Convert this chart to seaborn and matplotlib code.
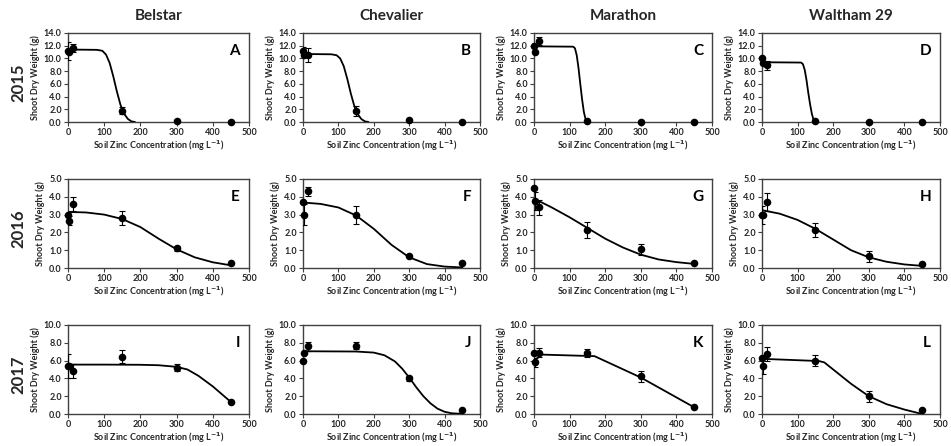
import numpy as np
import pandas as pd
import matplotlib
matplotlib.use("Agg")
import matplotlib.pyplot as plt
import seaborn as sns

# ---------------- data ----------------
cultivars = ["Belstar", "Chevalier", "Marathon", "Waltham 29"]
years = ["2015", "2016", "2017"]
panel_letters = ["A", "B", "C", "D", "E", "F", "G", "H", "I", "J", "K", "L"]
ymax = [14.0, 5.0, 10.0]
ystep = [2.0, 1.0, 2.0]
x_ticks = [0, 100, 200, 300, 400, 500]

zinc = [0, 2, 15, 150, 300, 450]

# observed means and error bars (per panel)
obs_A = [11.2, 11.0, 11.6, 1.8, 0.2, 0.0]
err_A = [1.4, 0.0, 0.6, 0.6, 0.0, 0.0]
obs_B = [11.2, 10.5, 10.5, 1.7, 0.3, 0.0]
err_B = [0.6, 0.0, 1.1, 0.8, 0.0, 0.0]
obs_C = [12.0, 11.0, 12.7, 0.2, 0.0, 0.0]
err_C = [0.0, 0.0, 0.6, 0.0, 0.0, 0.0]
obs_D = [10.0, 9.3, 8.9, 0.1, 0.0, 0.0]
err_D = [0.0, 0.0, 0.7, 0.0, 0.0, 0.0]
obs_E = [3.0, 2.65, 3.6, 2.8, 1.1, 0.3]
err_E = [0.0, 0.25, 0.4, 0.4, 0.15, 0.0]
obs_F = [3.7, 3.0, 4.3, 3.0, 0.65, 0.3]
err_F = [0.0, 0.6, 0.25, 0.5, 0.0, 0.0]
obs_G = [4.5, 3.75, 3.4, 2.15, 1.05, 0.28]
err_G = [0.0, 0.5, 0.4, 0.45, 0.3, 0.0]
obs_H = [3.0, 3.0, 3.7, 2.15, 0.65, 0.2]
err_H = [0.5, 0.0, 0.5, 0.4, 0.3, 0.0]
obs_I = [5.4, 5.4, 4.85, 6.45, 5.2, 1.35]
err_I = [1.3, 0.0, 0.8, 0.7, 0.4, 0.0]
obs_J = [6.0, 6.9, 7.6, 7.65, 4.0, 0.4]
err_J = [0.0, 0.0, 0.5, 0.4, 0.3, 0.0]
obs_K = [6.9, 5.8, 6.9, 6.85, 4.25, 0.75]
err_K = [0.0, 0.5, 0.5, 0.4, 0.6, 0.0]
obs_L = [6.3, 5.4, 6.7, 6.0, 2.0, 0.5]
err_L = [0.0, 0.9, 0.8, 0.6, 0.6, 0.0]

# fitted curves
fit_x_A = [0, 80, 95, 105, 115, 125, 135, 145, 155, 165, 175, 185]
fit_y_A = [11.4, 11.35, 11.2, 10.6, 9.3, 7.2, 4.8, 2.7, 1.3, 0.5, 0.1, 0.0]
fit_x_B = [0, 80, 95, 105, 115, 125, 135, 145, 155, 165, 175, 185]
fit_y_B = [10.7, 10.65, 10.5, 10.0, 8.8, 6.8, 4.5, 2.5, 1.2, 0.45, 0.1, 0.0]
fit_x_C = [0, 110, 115, 120, 125, 130, 135, 140, 145, 150]
fit_y_C = [11.9, 11.85, 11.6, 10.5, 8.5, 6.0, 3.6, 1.6, 0.4, 0.0]
fit_x_D = [0, 110, 115, 120, 125, 130, 135, 140, 145, 150]
fit_y_D = [9.4, 9.35, 9.1, 8.2, 6.6, 4.6, 2.8, 1.3, 0.3, 0.0]
fit_x_E = [0, 50, 100, 150, 200, 250, 300, 350, 400, 450]
fit_y_E = [3.15, 3.12, 3.0, 2.75, 2.3, 1.65, 1.05, 0.6, 0.32, 0.15]
fit_x_F = [0, 50, 100, 150, 200, 250, 300, 350, 400, 450]
fit_y_F = [3.68, 3.6, 3.4, 2.95, 2.2, 1.3, 0.6, 0.22, 0.08, 0.03]
fit_x_G = [0, 50, 100, 150, 200, 250, 300, 350, 400, 450]
fit_y_G = [3.9, 3.4, 2.85, 2.25, 1.65, 1.15, 0.75, 0.48, 0.33, 0.23]
fit_x_H = [0, 50, 100, 150, 200, 250, 300, 350, 400, 450]
fit_y_H = [3.25, 3.05, 2.7, 2.2, 1.6, 1.0, 0.6, 0.35, 0.2, 0.12]
fit_x_I = [0, 100, 200, 250, 300, 330, 360, 400, 450]
fit_y_I = [5.55, 5.55, 5.53, 5.48, 5.3, 5.0, 4.3, 3.1, 1.35]
fit_x_J = [0, 150, 200, 230, 260, 280, 300, 320, 340, 360, 380, 400, 420, 450]
fit_y_J = [7.05, 7.02, 6.9, 6.6, 5.9, 5.1, 4.1, 3.0, 2.0, 1.2, 0.6, 0.25, 0.08, 0.02]
fit_x_K = [0, 170, 300, 450]
fit_y_K = [6.7, 6.5, 4.1, 0.75]
fit_x_L = [0, 160, 175, 200, 250, 300, 350, 400, 450]
fit_y_L = [6.2, 5.95, 5.8, 5.0, 3.4, 2.0, 1.1, 0.5, 0.0]

obs_all = [obs_A, obs_B, obs_C, obs_D, obs_E, obs_F, obs_G, obs_H, obs_I, obs_J, obs_K, obs_L]
err_all = [err_A, err_B, err_C, err_D, err_E, err_F, err_G, err_H, err_I, err_J, err_K, err_L]
fitx_all = [fit_x_A, fit_x_B, fit_x_C, fit_x_D, fit_x_E, fit_x_F, fit_x_G, fit_x_H, fit_x_I, fit_x_J, fit_x_K, fit_x_L]
fity_all = [fit_y_A, fit_y_B, fit_y_C, fit_y_D, fit_y_E, fit_y_F, fit_y_G, fit_y_H, fit_y_I, fit_y_J, fit_y_K, fit_y_L]

# ---------------- style ----------------
sns.set_theme(style="ticks")
plt.rcParams["font.family"] = ["Lato", "DejaVu Sans"]
plt.rcParams["font.weight"] = "bold"

W, H = 951, 446
fig = plt.figure(figsize=(W / 100, H / 100), dpi=100)

col_left = [68, 303, 534, 762]
col_width = [181, 177, 178, 178]
row_top = [33, 179, 325]
ax_h = 89

edge = "#404040"
for r in range(3):
    for c in range(4):
        i = r * 4 + c
        left = col_left[c] / W
        bottom = 1 - (row_top[r] + ax_h) / H
        ax = fig.add_axes([left, bottom, col_width[c] / W, ax_h / H])
        df_fit = pd.DataFrame({"x": fitx_all[i], "y": fity_all[i]})
        df_obs = pd.DataFrame({"x": zinc, "y": obs_all[i], "e": err_all[i]})
        sns.lineplot(data=df_fit, x="x", y="y", ax=ax, color="black", lw=1.3,
                     estimator=None, sort=False, zorder=3)
        eb = df_obs[df_obs["e"] > 0]
        ax.errorbar(eb["x"], eb["y"], yerr=eb["e"], fmt="none", ecolor="black",
                    elinewidth=0.8, capsize=2, capthick=0.8, zorder=4)
        sns.scatterplot(data=df_obs, x="x", y="y", ax=ax, color="black", s=30,
                        edgecolor="black", linewidth=0, zorder=5, clip_on=False)
        ax.set_xlim(0, 500)
        ax.set_ylim(0, ymax[r])
        ax.set_xticks(x_ticks)
        ax.set_yticks(np.arange(0, ymax[r] + 0.001, ystep[r]))
        ax.set_yticklabels([f"{v:.1f}" for v in np.arange(0, ymax[r] + 0.001, ystep[r])])
        ax.tick_params(axis="both", labelsize=6.5, length=3, width=0.8, color=edge,
                       pad=1.5, direction="out")
        for lab in ax.get_xticklabels() + ax.get_yticklabels():
            lab.set_fontweight("bold")
            lab.set_color("#262626")
        for sp in ax.spines.values():
            sp.set_visible(True)
            sp.set_color(edge)
            sp.set_linewidth(1.0)
        ax.set_xlabel("Soil Zinc Concentration (mg L$^{\\mathbf{-1}}$)", fontsize=6.5,
                      fontweight="bold", labelpad=1, color="#262626")
        ax.set_ylabel("Shoot Dry Weight (g)", fontsize=6.5, fontweight="bold",
                      labelpad=3, color="#262626")
        ax.text(0.95, 0.80, panel_letters[i], transform=ax.transAxes, ha="right",
                va="center", fontsize=11, fontweight="bold", color="black")
        if r == 0:
            ax.set_title(cultivars[c], fontsize=11, fontweight="bold", pad=9)
        if c == 0:
            fig.text(18 / W, 1 - (row_top[r] + ax_h / 2 + 5) / H, years[r],
                     rotation=90, ha="center", va="center", fontsize=12,
                     fontweight="bold")

fig.savefig("out.png", dpi=100)
